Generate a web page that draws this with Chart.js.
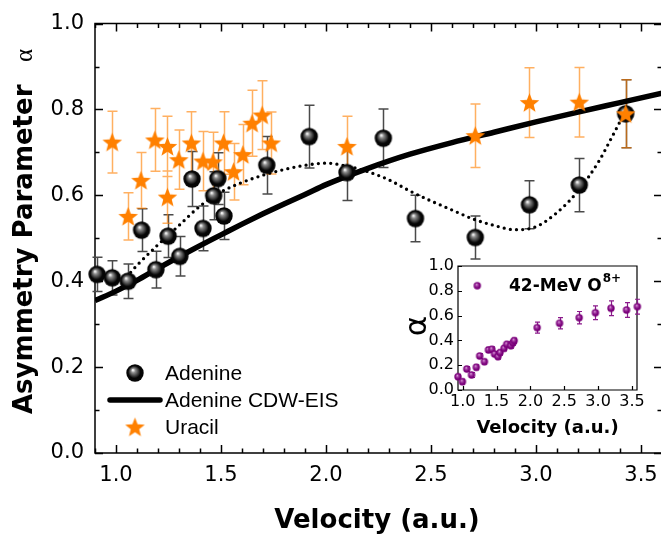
<!DOCTYPE html>
<html><head><meta charset="utf-8">
<script src="https://cdn.jsdelivr.net/npm/chart.js@4.4.1/dist/chart.umd.min.js"></script>
<style>
html,body{margin:0;padding:0;background:#fff;}
body{width:661px;height:543px;overflow:hidden;position:relative;}
#main{position:absolute;left:0;top:0;}
#inset{position:absolute;left:395px;top:250px;}
</style></head>
<body>
<canvas id="main" width="672" height="543"></canvas>
<canvas id="inset" width="266" height="195"></canvas>
<script>
// ---------- data ----------
const adenineX = [0.91, 0.982, 1.058, 1.122, 1.19, 1.248, 1.304, 1.362, 1.414, 1.465, 1.485, 1.514, 1.718, 1.92, 2.10, 2.273, 2.426, 2.711, 2.969, 3.206, 3.427];
const adenineY = [0.416, 0.408, 0.400, 0.519, 0.427, 0.505, 0.458, 0.638, 0.523, 0.599, 0.639, 0.552, 0.670, 0.737, 0.653, 0.733, 0.546, 0.502, 0.578, 0.624, 0.790];
const adenineErr = [0.040, 0.040, 0.040, 0.050, 0.043, 0.050, 0.046, 0.064, 0.052, 0.056, 0.060, 0.055, 0.067, 0.073, 0.065, 0.068, 0.054, 0.050, 0.056, 0.062, 0.079];

const uracilX = [0.982, 1.058, 1.119, 1.185, 1.245, 1.245, 1.299, 1.359, 1.414, 1.462, 1.512, 1.56, 1.604, 1.648, 1.696, 1.739, 2.10, 2.711, 2.969, 3.206, 3.427];
const uracilY = [0.724, 0.551, 0.635, 0.729, 0.714, 0.596, 0.683, 0.722, 0.680, 0.678, 0.722, 0.655, 0.695, 0.768, 0.787, 0.722, 0.714, 0.739, 0.816, 0.817, 0.790];
const uracilErr = [0.072, 0.055, 0.065, 0.073, 0.070, 0.061, 0.069, 0.073, 0.069, 0.069, 0.073, 0.066, 0.070, 0.077, 0.080, 0.072, 0.070, 0.074, 0.081, 0.081, 0.079];

const cdwX = [0.9, 1.0, 1.1, 1.2, 1.3, 1.4, 1.5, 1.6, 1.7, 1.8, 1.9, 2.0, 2.2, 2.4, 2.6, 2.8, 3.0, 3.2, 3.4, 3.6];
const cdwY = [0.355, 0.377, 0.402, 0.430, 0.457, 0.483, 0.508, 0.533, 0.557, 0.580, 0.602, 0.625, 0.663, 0.696, 0.723, 0.747, 0.771, 0.794, 0.816, 0.838];

const fitX = [1.05, 1.1, 1.2, 1.3, 1.4, 1.5, 1.6, 1.7, 1.8, 1.9, 2.0, 2.1, 2.2, 2.3, 2.4, 2.5, 2.6, 2.7, 2.8, 2.9, 3.0, 3.1, 3.2, 3.3, 3.35, 3.43];
const fitY = [0.410, 0.437, 0.485, 0.530, 0.575, 0.608, 0.630, 0.647, 0.660, 0.670, 0.675, 0.668, 0.655, 0.636, 0.610, 0.587, 0.566, 0.545, 0.530, 0.520, 0.527, 0.560, 0.610, 0.680, 0.725, 0.800];

const xTickLabels = [1.0, 1.5, 2.0, 2.5, 3.0, 3.5];
const yTickLabels = [0.0, 0.2, 0.4, 0.6, 0.8, 1.0];

const insetX = [0.93, 0.995, 1.06, 1.13, 1.20, 1.25, 1.32, 1.38, 1.43, 1.47, 1.52, 1.55, 1.61, 1.65, 1.71, 1.74, 1.76, 2.10, 2.43, 2.72, 2.96, 3.19, 3.42, 3.58];
const insetY = [0.107, 0.067, 0.169, 0.121, 0.183, 0.274, 0.228, 0.323, 0.328, 0.290, 0.269, 0.301, 0.336, 0.368, 0.357, 0.381, 0.398, 0.503, 0.538, 0.583, 0.623, 0.659, 0.645, 0.672];
const insetErr = [0.02, 0.02, 0.02, 0.02, 0.02, 0.02, 0.02, 0.02, 0.02, 0.02, 0.02, 0.02, 0.02, 0.02, 0.02, 0.02, 0.02, 0.045, 0.045, 0.05, 0.055, 0.06, 0.06, 0.06];
const insetXTickLabels = [1.0, 1.5, 2.0, 2.5, 3.0, 3.5];
const insetYTickLabels = [0.0, 0.2, 0.4, 0.6, 0.8, 1.0];

// ---------- marker images ----------
function sphereCanvas(r, light, mid, dark) {
  const s = Math.ceil(2 * r + 2);
  const c = document.createElement('canvas'); c.width = s; c.height = s;
  const g = c.getContext('2d'); const cx = s / 2, cy = s / 2;
  const grad = g.createRadialGradient(cx - r * 0.25, cy - r * 0.35, r * 0.04, cx, cy, r);
  grad.addColorStop(0, light); grad.addColorStop(0.22, mid); grad.addColorStop(0.7, dark); grad.addColorStop(1, dark);
  g.fillStyle = grad; g.beginPath(); g.arc(cx, cy, r, 0, Math.PI * 2); g.fill();
  return c;
}
function starCanvas(R, color) {
  const s = Math.ceil(2 * R + 2);
  const c = document.createElement('canvas'); c.width = s; c.height = s;
  const g = c.getContext('2d'); const cx = s / 2, cy = s / 2 + R * 0.08;
  const ri = R * 0.43;
  g.beginPath();
  for (let i = 0; i < 10; i++) {
    const rr = i % 2 === 0 ? R : ri;
    const a = -Math.PI / 2 + i * Math.PI / 5;
    const px = cx + rr * Math.cos(a), py = cy + rr * Math.sin(a);
    if (i === 0) g.moveTo(px, py); else g.lineTo(px, py);
  }
  g.closePath(); g.fillStyle = color; g.fill();
  return c;
}
const sphereImg = sphereCanvas(8.7, '#ffffff', '#8c8c8c', '#050505');
const starImg = starCanvas(10.3, '#ff8000');
const purpleImg = sphereCanvas(3.7, '#f6d0f6', '#b050b0', '#7a007a');

const pts = (xs, ys) => xs.map((v, i) => ({x: v, y: ys[i]}));

Chart.defaults.font.family = 'DejaVu Sans';
Chart.defaults.color = '#000';

// ---------- helpers ----------
function drawFrame(chart, cfg) {
  const {ctx, chartArea: a, scales: {x, y}} = chart;
  ctx.save();
  ctx.strokeStyle = '#000'; ctx.lineWidth = cfg.lw; ctx.lineCap = 'butt';
  ctx.beginPath();
  ctx.rect(a.left, a.top, a.right - a.left, a.bottom - a.top);
  ctx.stroke();
  ctx.beginPath();
  const i0 = Math.ceil(x.min / cfg.xStep - 1e-6), i1 = Math.floor(x.max / cfg.xStep + 1e-6);
  for (let i = i0; i <= i1; i++) {
    const major = i % cfg.xMajorEvery === 0;
    if (!major && !cfg.minor) continue;
    const px = Math.round(x.getPixelForValue(i * cfg.xStep)) + 0.5;
    const len = major ? cfg.major : cfg.minorLen;
    ctx.moveTo(px, a.bottom); ctx.lineTo(px, a.bottom - len);
    if (cfg.topRight) { ctx.moveTo(px, a.top); ctx.lineTo(px, a.top + len); }
  }
  const j0 = Math.ceil(y.min / cfg.yStep - 1e-6), j1 = Math.floor(y.max / cfg.yStep + 1e-6);
  for (let j = j0; j <= j1; j++) {
    const major = j % cfg.yMajorEvery === 0;
    if (!major && !cfg.minor) continue;
    const py = Math.round(y.getPixelForValue(j * cfg.yStep)) + 0.5;
    const len = major ? cfg.major : cfg.minorLen;
    ctx.moveTo(a.left, py); ctx.lineTo(a.left + len, py);
    if (cfg.topRight) { ctx.moveTo(a.right, py); ctx.lineTo(a.right - len, py); }
  }
  ctx.stroke();
  ctx.restore();
}
function drawErrors(chart, xs, ys, es, color, lw, cap) {
  const {ctx, scales: {x, y}} = chart;
  ctx.save(); ctx.strokeStyle = color; ctx.lineWidth = lw; ctx.beginPath();
  xs.forEach((v, i) => {
    const px = Math.round(x.getPixelForValue(v)) + 0.5;
    const pt = y.getPixelForValue(ys[i] + es[i]);
    const pb = y.getPixelForValue(ys[i] - es[i]);
    ctx.moveTo(px, pt); ctx.lineTo(px, pb);
    ctx.moveTo(px - cap, pt); ctx.lineTo(px + cap, pt);
    ctx.moveTo(px - cap, pb); ctx.lineTo(px + cap, pb);
  });
  ctx.stroke(); ctx.restore();
}

// ---------- main chart ----------
const mainPlugin = {
  id: 'mainDecor',
  beforeDatasetsDraw(chart) {
    drawFrame(chart, {lw: 1.5, xStep: 0.1, xMajorEvery: 5, yStep: 0.1, yMajorEvery: 2, major: 8, minorLen: 4.5, minor: true, topRight: true});
    drawErrors(chart, adenineX, adenineY, adenineErr, '#4a4a4a', 1.5, 5);
    drawErrors(chart, uracilX, uracilY, uracilErr, 'rgba(255,128,0,0.62)', 1.5, 5);
  },
  afterDraw(chart) {
    const ctx = chart.ctx;
    ctx.save();
    ctx.fillStyle = '#000';
    ctx.font = 'bold 26px "DejaVu Sans"';
    ctx.textAlign = 'center'; ctx.textBaseline = 'alphabetic';
    ctx.fillText('Velocity (a.u.)', 377, 528);
    // y title
    ctx.save();
    ctx.translate(32, 414); ctx.rotate(-Math.PI / 2);
    ctx.textAlign = 'left';
    ctx.font = 'bold 26px "DejaVu Sans"';
    ctx.fillText('Asymmetry Parameter', 0, 0);
    ctx.font = '25px "Liberation Serif"';
    ctx.fillText('\u03b1', 352, 0);
    ctx.restore();
    // legend
    ctx.font = '21px "Liberation Sans"';
    ctx.textAlign = 'left'; ctx.textBaseline = 'middle';
    ctx.drawImage(sphereImg, 135 - sphereImg.width / 2, 373 - sphereImg.height / 2);
    ctx.fillText('Adenine', 165, 374);
    ctx.strokeStyle = '#000'; ctx.lineWidth = 5.5; ctx.lineCap = 'round';
    ctx.beginPath(); ctx.moveTo(110, 400); ctx.lineTo(160, 400); ctx.stroke();
    ctx.fillText('Adenine CDW-EIS', 165, 401);
    ctx.drawImage(starImg, 135 - starImg.width / 2, 427 - starImg.height / 2);
    ctx.fillText('Uracil', 165, 428);
    ctx.restore();
  }
};

new Chart(document.getElementById('main'), {
  type: 'scatter',
  data: {
    datasets: [
      {label: 'Uracil', data: pts(uracilX, uracilY), pointStyle: starImg, pointRadius: 9, pointHoverRadius: 9, order: 0, clip: false},
      {label: 'Adenine', data: pts(adenineX, adenineY), pointStyle: sphereImg, pointRadius: 9, pointHoverRadius: 9, order: 1, clip: false},
      {label: 'Adenine CDW-EIS', data: pts(cdwX, cdwY), showLine: true, pointRadius: 0, borderColor: '#000', borderWidth: 5.5,
       cubicInterpolationMode: 'monotone', borderCapStyle: 'butt', order: 2},
      {label: 'fit', data: pts(fitX, fitY), showLine: true, pointRadius: 0, borderColor: '#000', borderWidth: 3.3,
       borderDash: [0, 6.2], borderCapStyle: 'round', cubicInterpolationMode: 'monotone', order: 3}
    ]
  },
  options: {
    responsive: false, animation: false, devicePixelRatio: 1,
    layout: {padding: {left: 0, right: 8, top: 17, bottom: 0}},
    plugins: {legend: {display: false}, tooltip: {enabled: false}},
    events: [],
    scales: {
      x: {
        type: 'linear', min: 0.9, max: 3.6,
        grid: {display: false, drawTicks: false}, border: {display: false},
        afterFit: s => { s.height = 90; },
        afterBuildTicks: s => { s.ticks = xTickLabels.map(v => ({value: v})); },
        ticks: {padding: 10, color: '#000', font: {family: 'DejaVu Sans', size: 21}, maxRotation: 0, autoSkip: false,
                callback: v => Number(v).toFixed(1)}
      },
      y: {
        type: 'linear', min: 0, max: 1,
        grid: {display: false, drawTicks: false}, border: {display: false},
        afterFit: s => { s.width = 95; },
        afterBuildTicks: s => { s.ticks = yTickLabels.map(v => ({value: v})); },
        ticks: {padding: 11, color: '#000', font: {family: 'DejaVu Sans', size: 21}, autoSkip: false,
                callback: v => Number(v).toFixed(1)}
      }
    }
  },
  plugins: [mainPlugin]
});

// ---------- inset chart ----------
const insetPlugin = {
  id: 'insetDecor',
  beforeDatasetsDraw(chart) {
    drawFrame(chart, {lw: 1.2, xStep: 0.5, xMajorEvery: 1, yStep: 0.2, yMajorEvery: 1, major: 4, minorLen: 2, minor: false, topRight: false});
    drawErrors(chart, insetX, insetY, insetErr, '#8b1a8b', 1.2, 2.5);
  },
  afterDraw(chart) {
    const ctx = chart.ctx;
    ctx.save(); ctx.fillStyle = '#000';
    ctx.font = 'bold 18px "DejaVu Sans"';
    ctx.textAlign = 'center'; ctx.textBaseline = 'alphabetic';
    ctx.fillText('Velocity (a.u.)', 152.5, 183);
    ctx.save();
    ctx.translate(31, 76); ctx.rotate(-Math.PI / 2);
    ctx.font = '31px "DejaVu Sans"';
    ctx.fillText('\u03b1', 0, 0);
    ctx.restore();
    ctx.drawImage(purpleImg, 82.3 - purpleImg.width / 2, 35.7 - purpleImg.height / 2);
    ctx.textAlign = 'left'; ctx.textBaseline = 'middle';
    ctx.font = 'bold 17px "DejaVu Sans"';
    ctx.fillText('42-MeV O', 114, 36.5);
    const w = ctx.measureText('42-MeV O').width;
    ctx.font = 'bold 12px "DejaVu Sans"';
    ctx.fillText('8+', 114 + w + 1, 29);
    ctx.restore();
  }
};

new Chart(document.getElementById('inset'), {
  type: 'scatter',
  data: {
    datasets: [
      {label: '42-MeV O8+', data: pts(insetX, insetY), pointStyle: purpleImg, pointRadius: 4, pointHoverRadius: 4, clip: false}
    ]
  },
  options: {
    responsive: false, animation: false, devicePixelRatio: 1,
    layout: {padding: {left: 0, right: 24, top: 16, bottom: 0}},
    plugins: {legend: {display: false}, tooltip: {enabled: false}},
    events: [],
    scales: {
      x: {
        type: 'linear', min: 0.93, max: 3.575,
        grid: {display: false, drawTicks: false}, border: {display: false},
        afterFit: s => { s.height = 55; },
        afterBuildTicks: s => { s.ticks = insetXTickLabels.map(v => ({value: v})); },
        ticks: {padding: 2, color: '#000', font: {family: 'DejaVu Sans', size: 16}, maxRotation: 0, autoSkip: false,
                callback: v => Number(v).toFixed(1)}
      },
      y: {
        type: 'linear', min: 0, max: 1,
        grid: {display: false, drawTicks: false}, border: {display: false},
        afterFit: s => { s.width = 63; },
        afterBuildTicks: s => { s.ticks = insetYTickLabels.map(v => ({value: v})); },
        ticks: {padding: 4, color: '#000', font: {family: 'DejaVu Sans', size: 16}, autoSkip: false,
                callback: v => Number(v).toFixed(1)}
      }
    }
  },
  plugins: [insetPlugin]
});
</script>
</body></html>
